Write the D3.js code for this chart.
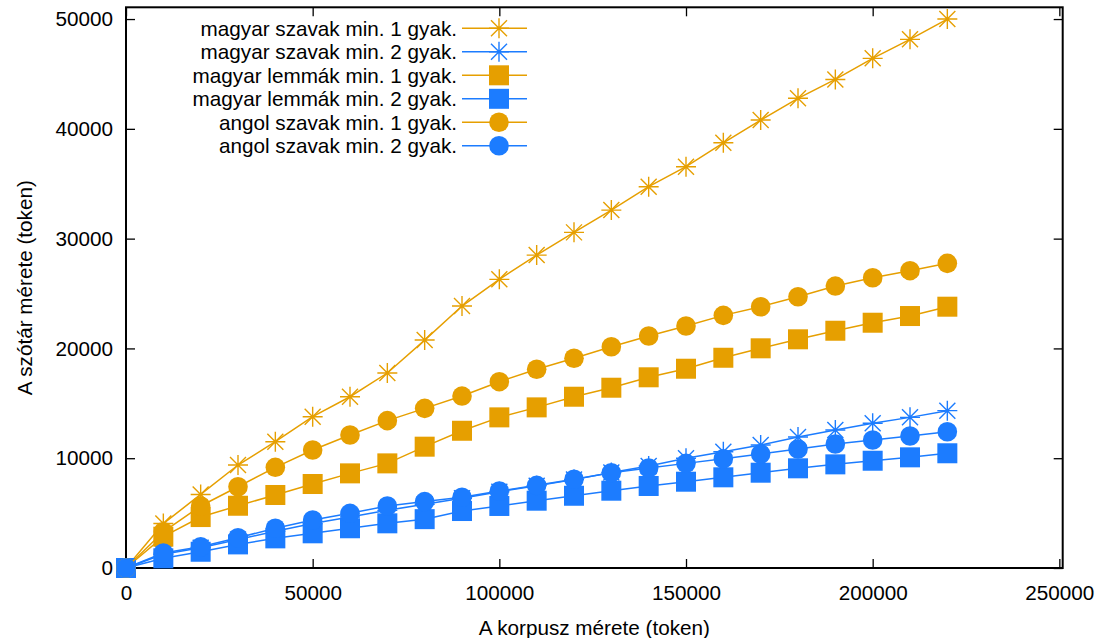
<!DOCTYPE html>
<html>
<head>
<meta charset="utf-8">
<script src="https://cdn.jsdelivr.net/npm/d3@7"></script>
<style>
  html, body { margin: 0; padding: 0; background: #fff; }
  svg { display: block; font-family: "Liberation Sans", Arial, Helvetica, sans-serif; }
</style>
</head>
<body>
<svg id="chart" width="1104" height="638"></svg>
<script>
// ---- data ----
const corpusSizes = [0, 10000, 20000, 30000, 40000, 50000, 60000, 70000, 80000, 90000, 100000,
  110000, 120000, 130000, 140000, 150000, 160000, 170000, 180000, 190000, 200000, 210000, 220000];

const huWordsMin1 = [0, 4050, 6700, 9380, 11500, 13780, 15600, 17760, 20760, 23860, 26290,
  28500, 30570, 32600, 34730, 36550, 38730, 40800, 42780, 44500, 46420, 48150, 50000];
const huWordsMin2 = [0, 1250, 1850, 2600, 3350, 4050, 4650, 5250, 5800, 6350, 6950,
  7500, 8050, 8700, 9290, 9990, 10590, 11200, 11930, 12570, 13180, 13720, 14330];
const huLemmasMin1 = [0, 2850, 4640, 5670, 6650, 7650, 8620, 9530, 11050, 12500, 13720,
  14630, 15600, 16420, 17370, 18150, 19150, 20010, 20830, 21610, 22340, 22950, 23800];
const huLemmasMin2 = [0, 880, 1480, 2150, 2700, 3160, 3620, 4070, 4450, 5190, 5650,
  6130, 6580, 7040, 7470, 7860, 8260, 8680, 9080, 9440, 9770, 10080, 10450];
const enWordsMin1 = [0, 3300, 5650, 7400, 9170, 10750, 12110, 13420, 14540, 15660, 16970,
  18100, 19100, 20150, 21130, 22040, 23010, 23800, 24710, 25680, 26440, 27080, 27750];
const enWordsMin2 = [0, 1370, 1940, 2760, 3620, 4370, 4980, 5650, 6050, 6440, 7010,
  7530, 8080, 8680, 9110, 9530, 9950, 10380, 10840, 11290, 11660, 12020, 12410];

const seriesNames = ["magyar szavak min. 1 gyak.", "magyar szavak min. 2 gyak.",
  "magyar lemmák min. 1 gyak.", "magyar lemmák min. 2 gyak.",
  "angol szavak min. 1 gyak.", "angol szavak min. 2 gyak."];
const seriesValues = [huWordsMin1, huWordsMin2, huLemmasMin1, huLemmasMin2, enWordsMin1, enWordsMin2];
const seriesShapes = ["star", "star", "square", "square", "circle", "circle"];
const seriesColors = ["#E69F00", "#1C7CFF", "#E69F00", "#1C7CFF", "#E69F00", "#1C7CFF"];

const xTickValues = [0, 50000, 100000, 150000, 200000, 250000];
const yTickValues = [0, 10000, 20000, 30000, 40000, 50000];
const xTitle = "A korpusz mérete (token)";
const yTitle = "A szótár mérete (token)";

// ---- layout ----
const svg = d3.select("#chart");
const mLeft = 126, mRight = 1062.7, mTop = 7.3, mBottom = 568;
const x = d3.scaleLinear().domain([0, 250900]).range([mLeft, mRight]);
const y = d3.scaleLinear().domain([0, 51070]).range([mBottom, mTop]);
const fontSize = 20.7;

// axes (inward ticks, mirrored)
const fmt = d3.format("d");
const gx = svg.append("g").attr("transform", `translate(0,${mBottom})`)
  .call(d3.axisBottom(x).tickValues(xTickValues).tickFormat(fmt).tickSizeInner(-9).tickSizeOuter(0).tickPadding(17));
const gy = svg.append("g").attr("transform", `translate(${mLeft},0)`)
  .call(d3.axisLeft(y).tickValues(yTickValues).tickFormat(fmt).tickSizeInner(-9).tickSizeOuter(0).tickPadding(13));
const gx2 = svg.append("g").attr("transform", `translate(0,${mTop})`)
  .call(d3.axisTop(x).tickValues(xTickValues).tickFormat("").tickSizeInner(-9).tickSizeOuter(0));
const gy2 = svg.append("g").attr("transform", `translate(${mRight},0)`)
  .call(d3.axisRight(y).tickValues(yTickValues).tickFormat("").tickSizeInner(-9).tickSizeOuter(0));
[gx, gy, gx2, gy2].forEach(g => {
  g.select(".domain").remove();
  g.selectAll(".tick line").attr("stroke", "#000").attr("stroke-width", 1.3);
  g.selectAll(".tick text").attr("font-size", fontSize).attr("fill", "#000")
    .attr("font-family", "Liberation Sans, Arial, sans-serif");
});

// frame
svg.append("rect").attr("x", mLeft).attr("y", mTop).attr("width", mRight - mLeft).attr("height", mBottom - mTop)
  .attr("fill", "none").attr("stroke", "#000").attr("stroke-width", 2);

// titles
svg.append("text").attr("x", (mLeft + mRight) / 2).attr("y", 635).attr("text-anchor", "middle")
  .attr("font-size", fontSize).text(xTitle);
svg.append("text").attr("transform", `translate(31.5,${(mTop + mBottom) / 2}) rotate(-90)`)
  .attr("text-anchor", "middle").attr("font-size", fontSize).text(yTitle);

// markers
function drawMarker(g, shape, cx, cy, color) {
  if (shape === "star") {
    const a = 10, b = 8;
    g.append("path").attr("d",
      `M${cx - a},${cy}L${cx + a},${cy}M${cx},${cy - a}L${cx},${cy + a}` +
      `M${cx - b},${cy - b}L${cx + b},${cy + b}M${cx - b},${cy + b}L${cx + b},${cy - b}`)
      .attr("stroke", color).attr("stroke-width", 1.4).attr("fill", "none");
  } else if (shape === "square") {
    g.append("rect").attr("x", cx - 10).attr("y", cy - 10).attr("width", 20).attr("height", 20)
      .attr("fill", color);
  } else {
    g.append("circle").attr("cx", cx).attr("cy", cy).attr("r", 9.8).attr("fill", color);
  }
}

const plot = svg.append("g");
const line = d3.line().x(d => x(d[0])).y(d => y(d[1]));
seriesValues.forEach((vals, i) => {
  const g = plot.append("g");
  const pts = corpusSizes.map((c, j) => [c, vals[j]]);
  g.append("path").datum(pts).attr("d", line).attr("fill", "none")
    .attr("stroke", seriesColors[i]).attr("stroke-width", 1.5);
  pts.forEach(p => drawMarker(g, seriesShapes[i], x(p[0]), y(p[1]), seriesColors[i]));
});

// legend
const legend = svg.append("g");
seriesNames.forEach((name, i) => {
  const cy = 28.3 + i * 23.5;
  legend.append("text").attr("x", 457).attr("y", cy).attr("dy", "0.35em")
    .attr("text-anchor", "end").attr("font-size", fontSize).text(name);
  legend.append("line").attr("x1", 462).attr("x2", 527).attr("y1", cy).attr("y2", cy)
    .attr("stroke", seriesColors[i]).attr("stroke-width", 1.5);
  drawMarker(legend, seriesShapes[i], 499, cy, seriesColors[i]);
});
</script>
</body>
</html>
